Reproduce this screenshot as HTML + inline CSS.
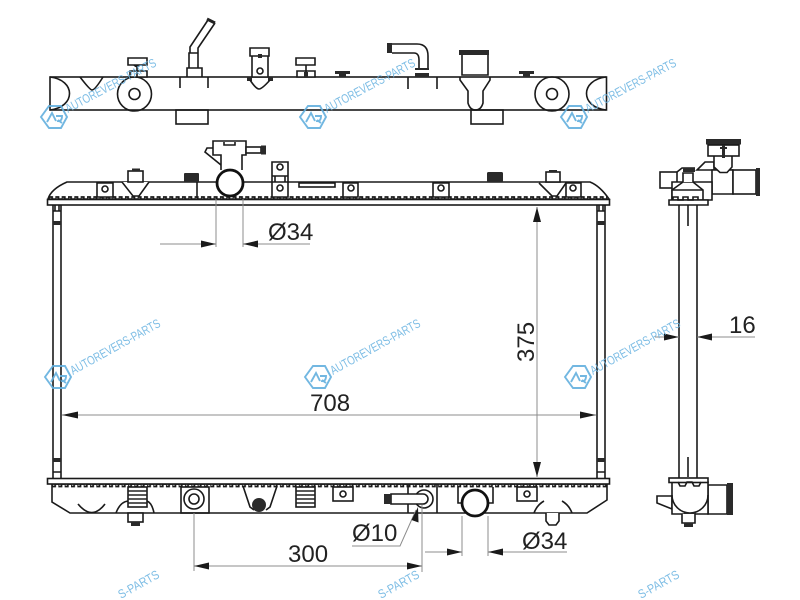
<!DOCTYPE html>
<html><head><meta charset="utf-8"><style>
html,body{margin:0;padding:0;background:#fff;width:800px;height:600px;overflow:hidden}
svg{display:block;overflow:hidden}
.l{fill:none;stroke:#1a1a1a;stroke-width:1.6}
.w{fill:#fff;stroke:#1a1a1a;stroke-width:1.6}
.b{fill:#2a2a2a;stroke:none}
.d{fill:none;stroke:#8c8c8c;stroke-width:1}
.a{fill:#1a1a1a}
.x{font-family:"Liberation Sans",sans-serif;font-size:24px;fill:#222}
.m text{font-family:"Liberation Sans",sans-serif;font-size:12.5px;fill:#6fb6e2}
.m path{fill:none;stroke:#62afde;stroke-width:1.9}
</style></head><body>
<svg width="800" height="600" viewBox="0 0 800 600" xmlns="http://www.w3.org/2000/svg">
<defs>
<pattern id="tt" patternUnits="userSpaceOnUse" x="49" y="195.500" width="6.33" height="4"><path d="M0 4V1.500H3.200V4H6.330" fill="none" stroke="#1a1a1a" stroke-width="1.700"/></pattern>
<pattern id="tb" patternUnits="userSpaceOnUse" x="52" y="484" width="6.33" height="4"><path d="M0 0V2.500H3.200V0H6.330" fill="none" stroke="#1a1a1a" stroke-width="1.700"/></pattern>
</defs>

<!-- TOP VIEW -->
<rect class="l" x="50" y="77" width="556.500" height="33"/>
<path class="l" d="M50 77C76 80 76 107 50 110M80 77Q90 90 92 90Q95 90 103 77"/>
<circle class="l" cx="134.500" cy="94" r="17"/><circle class="l" cx="134.500" cy="94" r="5.500"/>
<path class="w" d="M128 58h19v7h-19zM130 71h17v6h-17z"/><path class="l" d="M137 65v12M134 65q3 3 6 0"/>
<path class="l" d="M180 77v11M208 77v11"/>
<rect class="l" x="176" y="110" width="32" height="14"/>
<path class="l" d="M187 77v-9h15v9M189 68V53h9v15M190 53v-6l18-27M198 53v-5l17-25"/>
<path d="M207 19l8 4" stroke="#222" stroke-width="3"/>
<path class="w" d="M250 48h19v8h-19zM252 56h16v21h-16z"/><circle class="l" cx="260" cy="71" r="3"/>
<rect class="b" x="258" y="54" width="4" height="4"/>
<rect class="b" x="247" y="77" width="5" height="4"/><rect class="b" x="268" y="77" width="5" height="4"/>
<path class="l" d="M250 80Q256 89 259 89Q262 89 270 80"/>
<path class="w" d="M296 58h19v7h-19zM297 71h18v6h-18z"/><path class="l" d="M306 65v12"/><rect class="b" x="304" y="72" width="4" height="5"/>
<rect class="b" x="335" y="71" width="15" height="3"/><rect class="b" x="339" y="74" width="7" height="3"/>
<rect class="b" x="387" y="43" width="5" height="10"/>
<path class="l" d="M392 44H417Q428 44 428 56V68M392 53H414Q419 53 419 60V68"/>
<path class="b" d="M415 68h14v2h-14zM415 73h14v4h-14z"/>
<path class="l" d="M408 77v12M437 77v12"/>
<rect class="b" x="459" y="50" width="30" height="5"/><path class="l" d="M462 55v20h26V55M462 75h26"/>
<path class="l" d="M460 77v3l8 11v12q2 7 7.500 7t7.500-7V91l7-11v-3"/>
<rect class="l" x="471" y="110" width="32" height="14"/>
<rect class="b" x="519" y="71" width="15" height="3"/><rect class="b" x="523" y="74" width="7" height="3"/>
<circle class="l" cx="552" cy="94" r="17"/><circle class="l" cx="552" cy="94" r="5.500"/>
<path class="l" d="M606 77C580 80 580 107 606 110"/>

<!-- FRONT: sides -->
<path class="l" d="M53 205V478M61 205V478M597 205V478M605 205V478M53 211h8M53 472h8M597 211h8M597 472h8M55 205v6M59 205v6M599 205v6M603 205v6"/>
<rect class="b" x="53" y="221" width="8" height="4"/><rect class="b" x="53" y="458" width="8" height="4"/>
<rect class="b" x="597" y="221" width="8" height="4"/><rect class="b" x="597" y="458" width="8" height="4"/>

<!-- Top tank -->
<path class="w" d="M48 199Q51 189 67 182H590Q600 186 609 199Z"/>
<rect x="49" y="195.500" width="558" height="4" fill="url(#tt)"/>
<rect class="w" x="47.500" y="199.500" width="562" height="5.500"/>
<path class="w" d="M97 183h16v14H97zM272 162h16v35h-16zM343 183h15v14h-15zM433 183h16v14h-16zM566 183h15v14h-15z"/>
<circle class="l" cx="105" cy="189" r="3"/><circle class="l" cx="280" cy="167" r="3"/><circle class="l" cx="280" cy="188" r="3"/>
<circle class="l" cx="351" cy="188" r="3"/><circle class="l" cx="441" cy="188" r="3"/><circle class="l" cx="573" cy="188" r="3"/>
<path class="l" d="M275 176v6h10v-6M272 176h16M272 182h16"/>
<path class="w" d="M122 182L133 196H139L149 182"/><rect class="w" x="128" y="171" width="15" height="11"/><rect class="b" x="132" y="168.500" width="8" height="2.500"/>
<rect class="b" x="184" y="173" width="15" height="9" rx="1"/><path class="l" d="M197 182v16"/>
<rect class="w" x="299" y="183" width="36" height="4"/>
<rect class="b" x="487" y="172" width="16" height="10" rx="1.500"/>
<path class="w" d="M539 183L552 196H557L566 183"/><rect class="w" x="546" y="172" width="14" height="10"/><rect class="b" x="549" y="170" width="8" height="2"/>
<!-- filler neck -->
<path class="w" d="M221 170V155H213V141H246V155H242V170"/>
<path class="l" d="M224 142v3h11v-3"/>
<path class="l" d="M213 148H207L205 152L221 165"/>
<rect class="w" x="246" y="147" width="15" height="6"/><rect class="b" x="261" y="145.500" width="5" height="9"/>
<circle cx="230" cy="183" r="13" fill="#fff" stroke="#111" stroke-width="2.800"/>

<!-- Bottom tank -->
<path class="w" d="M52 484V502L70 513H587L607 500V484Z"/>
<rect x="52" y="484" width="555" height="4" fill="url(#tb)"/>
<rect class="w" x="47.500" y="478.500" width="562" height="5.500"/>
<path class="l" d="M78 504Q92 521 105 504M116 513Q120 502 128 501M147 501Q152 503 154 513"/>
<rect class="w" x="128" y="487" width="19" height="20"/><path d="M128 491h19M128 495h19M128 499h19M128 503h19" stroke="#222" stroke-width="1.400"/>
<rect class="w" x="128" y="513" width="15" height="9"/><rect class="b" x="131" y="522" width="9" height="4"/>
<rect class="l" x="181" y="487" width="28" height="26"/><circle class="l" cx="194" cy="499" r="10"/><circle class="l" cx="194" cy="499" r="5"/>
<path class="l" d="M243 486L250 507L254 510M277 486L270 507L266 510"/><circle class="b" cx="259" cy="505" r="7"/>
<rect class="w" x="296" y="487" width="19" height="20"/><path d="M296 491h19M296 495h19M296 499h19M296 503h19" stroke="#222" stroke-width="1.400"/>
<rect class="w" x="333" y="487" width="20" height="14"/><circle class="l" cx="343" cy="494" r="3"/>
<path class="l" d="M408 484V513M437 484V513"/>
<circle class="l" cx="424" cy="499" r="9"/>
<path class="w" d="M391 494H423a5 5 0 0 1 0 10H391Z"/><rect class="b" x="384" y="494" width="7" height="10"/>
<path class="l" d="M458 487V503H464M493 487V503H487"/>
<circle cx="475" cy="503" r="13" fill="#fff" stroke="#111" stroke-width="2.800"/>
<rect class="w" x="517" y="487" width="20" height="14"/><circle class="l" cx="527" cy="494" r="3"/>
<path class="l" d="M534 513Q537 505 544 501M562 501Q569 505 572 513"/>
<path class="w" d="M546 513v8l3 4h7l3-4v-8"/>

<!-- SIDE VIEW -->
<path class="l" d="M679 205V478M697 205V478M688 205V226M688 457V477"/>
<path class="w" d="M733 170H697L705 162H714V173H733V170"/>
<path class="w" d="M733 170H712V194H733Z"/>
<rect class="w" x="733" y="170" width="23" height="24"/><rect class="b" x="756" y="168" width="4" height="28"/>
<path class="w" d="M714 156V167L720 172.500H727L732 167V156"/>
<rect class="b" x="706" y="139" width="35" height="5.500"/><rect class="w" x="708" y="145" width="31" height="11"/>
<rect class="b" x="722" y="145" width="3" height="13"/><rect class="b" x="720" y="147" width="7" height="2"/>
<rect class="w" x="660" y="172" width="17" height="16"/>
<path class="w" d="M672 182H712V200H672Z"/>
<path class="w" d="M672 190L683 182H693L703 190V200H672Z"/>
<path class="w" d="M683 182V173H693V182"/>
<path class="l" d="M677 172L682 168H695"/><rect class="b" x="683" y="168" width="12" height="4"/>
<path class="l" d="M672 190h31"/>
<path class="w" d="M669 200H708V205H669Z"/><path class="l" d="M673 200v-3h5v3h5v-3h5v3h5v-3h5v3"/>

<path class="w" d="M708 485H727V514H708Z"/><rect class="b" x="727" y="483" width="6" height="32"/>
<path class="w" d="M672 496L657 496V503L672 509Z"/>
<path class="w" d="M672 482H708V514H672Z"/>
<path class="l" d="M672 495A18 18 0 0 0 708 495"/>
<rect class="w" x="669" y="478" width="39" height="4.500"/>
<path class="l" d="M678 482l2 4h5l2-4h5l2 4h5l2-4"/>
<rect class="b" x="684" y="512.500" width="12" height="2"/>
<path class="w" d="M682 514V523H695V514"/><rect class="b" x="684" y="523" width="9" height="4"/>

<!-- DIMENSIONS -->
<path class="d" d="M537 207V477M62 415H596M216 199V247M243 199V247M160 244H216M243 244H310M425 552H462M488 552H567M462 516V556M488 516V556M194 513V571M422 505V572M194 566H422M352 546H400L416 510M655 337H679M697 337H755"/>
<path class="a" d="M537 207l-4 15h8zM537 477l-4-15h8zM62 415l16-3.500v7zM596 415l-16-3.500v7zM216 244l-15-3.500v7zM243 244l15-3.500v7zM462 552l-15-3.500v7zM488 552l15-3.500v7zM194 566l15-3.500v7zM422 566l-15-3.500v7zM418 507l-6.500 13 7 2.500zM679 337l-15-3.500v7zM697 337l15-3.500v7z"/>
<text class="x" x="310" y="411">708</text>
<text class="x" transform="translate(534 362) rotate(-90)">375</text>
<text class="x" x="268" y="240">Ø34</text>
<text class="x" x="522" y="549">Ø34</text>
<text class="x" x="352" y="541">Ø10</text>
<text class="x" x="288" y="562">300</text>
<text class="x" x="729" y="333">16</text>

<!-- WATERMARKS -->
<g class="m" opacity=".9">
<g transform="translate(54 117)"><path d="M-5-11H7L13 0 7 11H-5L-13 0ZM-7 5L-2-4 2 4M2-1H8Q8 5 3 4M4 3L8 6"/></g>
<g transform="translate(313 117)"><path d="M-5-11H7L13 0 7 11H-5L-13 0ZM-7 5L-2-4 2 4M2-1H8Q8 5 3 4M4 3L8 6"/></g>
<g transform="translate(574 117)"><path d="M-5-11H7L13 0 7 11H-5L-13 0ZM-7 5L-2-4 2 4M2-1H8Q8 5 3 4M4 3L8 6"/></g>
<g transform="translate(58 377)"><path d="M-5-11H7L13 0 7 11H-5L-13 0ZM-7 5L-2-4 2 4M2-1H8Q8 5 3 4M4 3L8 6"/></g>
<g transform="translate(318 377)"><path d="M-5-11H7L13 0 7 11H-5L-13 0ZM-7 5L-2-4 2 4M2-1H8Q8 5 3 4M4 3L8 6"/></g>
<g transform="translate(578 377)"><path d="M-5-11H7L13 0 7 11H-5L-13 0ZM-7 5L-2-4 2 4M2-1H8Q8 5 3 4M4 3L8 6"/></g>
<text transform="translate(68 113) rotate(-28)" textLength="101" lengthAdjust="spacingAndGlyphs">AUTOREVERS-PARTS</text>
<text transform="translate(327 113) rotate(-28)" textLength="101" lengthAdjust="spacingAndGlyphs">AUTOREVERS-PARTS</text>
<text transform="translate(588 113) rotate(-28)" textLength="101" lengthAdjust="spacingAndGlyphs">AUTOREVERS-PARTS</text>
<text transform="translate(73 375) rotate(-29)" textLength="101" lengthAdjust="spacingAndGlyphs">AUTOREVERS-PARTS</text>
<text transform="translate(333 375) rotate(-29)" textLength="101" lengthAdjust="spacingAndGlyphs">AUTOREVERS-PARTS</text>
<text transform="translate(593 375) rotate(-29)" textLength="101" lengthAdjust="spacingAndGlyphs">AUTOREVERS-PARTS</text>
<text transform="translate(121 599) rotate(-29)" textLength="45" lengthAdjust="spacingAndGlyphs">S-PARTS</text>
<text transform="translate(381 599) rotate(-29)" textLength="45" lengthAdjust="spacingAndGlyphs">S-PARTS</text>
<text transform="translate(641 599) rotate(-29)" textLength="45" lengthAdjust="spacingAndGlyphs">S-PARTS</text>
</g>
</svg>
</body></html>
